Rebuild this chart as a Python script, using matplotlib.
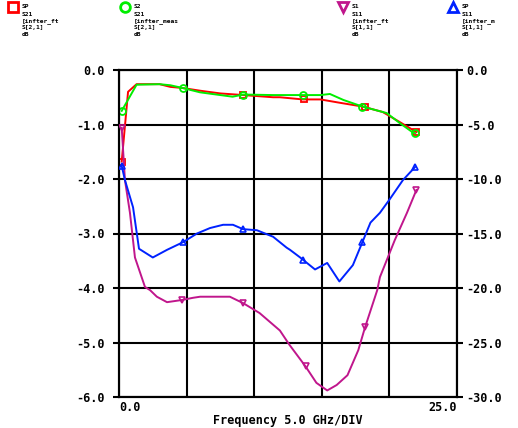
import matplotlib
matplotlib.use("Agg")
import matplotlib.pyplot as plt

# ---- data (frequency in GHz) ----
red_f = [0.2, 0.67, 1.3, 3.0, 3.8, 4.7, 6.0, 7.5, 9.2, 11.4, 11.9, 13.6, 14.9, 16.3, 18.0, 19.5, 20.8, 22.0]
red_db = [-1.68, -0.4, -0.26, -0.26, -0.31, -0.33, -0.38, -0.43, -0.46, -0.5, -0.5, -0.54, -0.54, -0.6, -0.67, -0.77, -0.96, -1.14]
red_mk_f = [0.2, 9.2, 13.7, 18.2, 22.0]
red_mk_db = [-1.68, -0.46, -0.54, -0.67, -1.14]

green_f = [0.2, 1.3, 3.0, 3.8, 4.7, 6.0, 7.5, 8.4, 9.2, 11.4, 11.9, 13.6, 14.9, 15.6, 16.6, 18.0, 19.8, 20.8, 21.7, 21.9]
green_db = [-0.75, -0.27, -0.26, -0.28, -0.33, -0.41, -0.46, -0.49, -0.45, -0.46, -0.46, -0.46, -0.46, -0.44, -0.55, -0.67, -0.79, -0.98, -1.14, -1.16]
green_mk_f = [0.2, 4.7, 9.2, 13.6, 18.0, 21.9]
green_mk_db = [-0.75, -0.33, -0.45, -0.46, -0.67, -1.16]

mag_f = [0.2, 0.44, 0.81, 1.18, 1.92, 2.3, 2.8, 3.55, 4.66, 5.47, 6.0, 8.2, 9.2, 10.4, 11.9, 12.6, 13.8, 14.6, 15.4, 16.1, 16.9, 17.7, 18.2, 19.1, 19.3, 20.4, 21.3, 22.0]
mag_db = [-5.3, -10.1, -13.1, -17.2, -19.9, -20.2, -20.8, -21.3, -21.1, -20.9, -20.8, -20.8, -21.4, -22.3, -23.9, -25.2, -27.2, -28.7, -29.4, -28.9, -28.0, -25.7, -23.6, -20.2, -19.0, -15.6, -13.1, -11.0]
mag_mk_f = [0.2, 4.66, 9.2, 13.8, 18.2, 22.0]
mag_mk_db = [-5.3, -21.1, -21.4, -27.2, -23.6, -11.0]

blue_f = [0.2, 0.44, 1.04, 1.48, 2.5, 3.55, 4.73, 5.77, 6.73, 7.7, 8.43, 9.17, 10.2, 11.4, 11.9, 12.4, 12.65, 13.4, 13.6, 14.5, 15.4, 16.3, 17.3, 18.0, 18.6, 19.3, 20.0, 21.0, 21.9]
blue_db = [-8.8, -10.1, -12.6, -16.4, -17.2, -16.5, -15.8, -15.0, -14.5, -14.2, -14.2, -14.6, -14.7, -15.3, -15.8, -16.3, -16.5, -17.2, -17.4, -18.3, -17.7, -19.4, -17.9, -15.8, -14.0, -13.1, -11.9, -10.1, -8.9]
blue_mk_f = [0.2, 4.73, 9.17, 13.6, 18.0, 21.9]
blue_mk_db = [-8.8, -15.8, -14.6, -17.4, -15.8, -8.9]

left_ticks = [0.0, -1.0, -2.0, -3.0, -4.0, -5.0, -6.0]
right_ticks = [0.0, -5.0, -10.0, -15.0, -20.0, -25.0, -30.0]

legend_entries = [
    ("s", "#ff0000", ["SP", "S21", "[infter_ft", "S[2,1]", "dB"]),
    ("o", "#00ee00", ["S2", "S21", "[infter_meas", "S[2,1]", "dB"]),
    ("v", "#c0168c", ["S1", "S11", "[infter_ft", "S[1,1]", "dB"]),
    ("^", "#0022ff", ["SP", "S11", "[infter_m", "S[1,1]", "dB"]),
]

RED, GREEN, MAG, BLUE = "#ff0000", "#00ee00", "#c0168c", "#0022ff"
mono = "DejaVu Sans Mono"

fig = plt.figure(figsize=(5.18, 4.28), dpi=100)
W, H = 518, 428
ax = fig.add_axes([119 / W, 1 - 397 / H, (457 - 119) / W, (397 - 70) / H])
ax2 = ax.twinx()

ax.set_xlim(0, 25)
ax.set_ylim(-6, 0)
ax2.set_ylim(-30, 0)

ax.set_xticks([0, 5, 10, 15, 20, 25])
ax.set_yticks(left_ticks)
ax2.set_yticks(right_ticks)
ax.grid(True, color="black", lw=1.5)
for a in (ax, ax2):
    for s in a.spines.values():
        s.set_linewidth(1.5)
ax.set_xticklabels(["0.0", "", "", "", "", "25.0"])
ax.set_yticklabels([f"{v:.1f}" for v in left_ticks], fontfamily=mono, fontweight="bold", fontsize=8.5)
ax2.set_yticklabels([f"{v:.1f}" for v in right_ticks], fontfamily=mono, fontweight="bold", fontsize=8.5)
for lab in ax.get_xticklabels():
    lab.set_fontfamily(mono)
    lab.set_fontweight("bold")
    lab.set_fontsize(8.5)
xl = ax.get_xticklabels()
xl[0].set_horizontalalignment("left")
xl[-1].set_horizontalalignment("right")
ax.tick_params(axis="x", length=0, pad=3)
ax.tick_params(axis="y", length=4, width=1.5, pad=6)
ax2.tick_params(axis="y", length=4, width=1.5, pad=3)
ax.set_xlabel("Frequency 5.0 GHz/DIV", fontfamily=mono, fontweight="bold", fontsize=8.5, labelpad=0)

ax.plot(red_f, red_db, color=RED, lw=1.4, zorder=3)
ax.plot(red_mk_f, red_mk_db, ls="none", marker="s", ms=5, mfc="none", mec=RED, mew=1.3, zorder=3)
ax.plot(green_f, green_db, color=GREEN, lw=1.4, zorder=4)
ax.plot(green_mk_f, green_mk_db, ls="none", marker="o", ms=5, mfc="none", mec=GREEN, mew=1.3, zorder=4)
ax2.plot(mag_f, mag_db, color=MAG, lw=1.4, zorder=3)
ax2.plot(mag_mk_f, mag_mk_db, ls="none", marker="v", ms=5, mfc="none", mec=MAG, mew=1.2, zorder=3)
ax2.plot(blue_f, blue_db, color=BLUE, lw=1.4, zorder=3)
ax2.plot(blue_mk_f, blue_mk_db, ls="none", marker="^", ms=5, mfc="none", mec=BLUE, mew=1.2, zorder=3)

# legend block at top
xs = [13, 125, 343, 453]
for (mk, col, lines), x0 in zip(legend_entries, xs):
    fig.lines.append(plt.Line2D([x0 / W], [1 - 7 / H], marker=mk, ms=7, mfc="none", mec=col, mew=2,
                                transform=fig.transFigure, ls="none"))
    for i, t in enumerate(lines):
        fig.text((x0 + 9) / W, 1 - (7 + 7 * i) / H, t, fontfamily=mono, fontweight="bold",
                 fontsize=4.5, va="center", ha="left")

fig.savefig("out.png", dpi=100)
